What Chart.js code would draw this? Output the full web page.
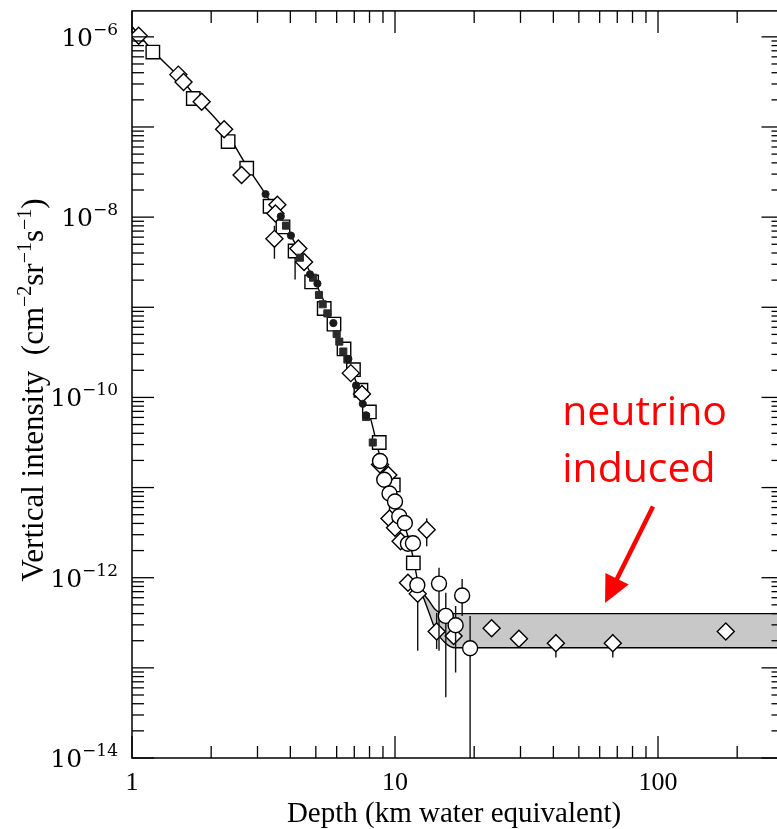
<!DOCTYPE html>
<html>
<head>
<meta charset="utf-8">
<script src="https://cdn.jsdelivr.net/npm/chart.js@4.4.1/dist/chart.umd.min.js"></script>
<style>
  html, body { margin: 0; padding: 0; background: #fff; overflow: hidden; }
  #wrap { position: absolute; left: 0; top: 0; width: 800px; height: 829px; }
</style>
</head>
<body>
<div id="wrap"><canvas id="chart" width="800" height="829"></canvas></div>
<script>
// depth (km w.e.) vs vertical muon intensity (cm^-2 sr^-1 s^-1)

// open diamonds
const diamondX = [1.06, 1.50, 1.57, 1.84, 2.24, 2.61, 3.57, 3.51, 3.48, 4.29, 4.51, 6.79, 7.49, 8.77,
  9.43, 9.53, 10.0, 13.2, 10.5, 11.2, 12.2, 14.4, 16.7, 23.3, 29.6, 40.9, 67.3, 181];
const diamondY = [1.03e-6, 3.81e-7, 3.16e-7, 1.90e-7, 9.42e-8, 2.94e-8, 1.37e-8, 1.10e-8, 5.74e-9, 4.49e-9,
  3.18e-9, 1.86e-10, 1.09e-10, 1.80e-11, 1.38e-11, 4.55e-12, 3.59e-12, 3.41e-12, 2.54e-12, 8.8e-13,
  6.64e-13, 2.53e-13, 2.26e-13, 2.75e-13, 2.10e-13, 1.87e-13, 1.87e-13, 2.53e-13];
const diamondLo = [null, null, null, null, null, null, null, null, 3.46e-9, null, null, null, null, null,
  null, 4.0e-12, null, 2.23e-12, null, null, 1.55e-13, 1.62e-13, null, 2.45e-13, 1.71e-13, 1.30e-13, 1.30e-13, 2.2e-13];
const diamondHi = [null, null, null, null, null, null, null, null, 8.0e-9, null, null, null, null, null,
  null, 7.5e-12, null, 4.58e-12, null, null, 6.64e-13, 4.07e-13, null, 3.15e-13, 2.51e-13, 2.38e-13, 2.38e-13, 2.9e-13];

// open squares
const squareX = [1.20, 1.71, 2.32, 2.73, 3.35, 3.75, 4.17, 4.82, 5.38, 5.86, 6.40, 6.95, 7.42, 7.99, 8.71, 9.85, 11.74];
const squareY = [6.78e-7, 2.07e-7, 6.89e-8, 3.49e-8, 1.32e-8, 7.8e-9, 4.21e-9, 1.91e-9, 9.7e-10, 6.5e-10,
  3.45e-10, 2.03e-10, 1.20e-10, 6.9e-11, 3.16e-11, 1.07e-11, 1.46e-12];
const squareLo = [null, null, null, null, null, null, 2.03e-9, null, null, null, null, null, null, null, null, null, null];
const squareHi = [null, null, null, null, null, null, 4.21e-9, null, null, null, null, null, null, null, null, null, null];

// small filled circles
const dotX = [3.22, 3.68, 4.02, 4.75, 5.07, 5.83, 6.65, 7.11, 7.54, 7.76];
const dotY = [1.80e-8, 1.02e-8, 6.25e-9, 2.32e-9, 1.83e-9, 6.68e-10, 2.67e-10, 1.36e-10, 8.5e-11, 6.34e-11];

// small filled squares
const blockX = [3.85, 4.35, 4.88, 5.14, 5.31, 5.53, 6.00, 6.14, 6.36, 6.59, 7.76, 8.23];
const blockY = [8.05e-9, 3.55e-9, 2.13e-9, 1.37e-9, 1.08e-9, 8.55e-10, 5.05e-10, 4.16e-10, 3.23e-10, 2.63e-10, 6.08e-11, 3.16e-11];

// open circles
const circleX = [8.77, 9.10, 9.53, 10.0, 10.38, 10.9, 11.2, 11.7, 12.16, 14.7, 15.6, 18.0, 17.0, 19.3];
const circleY = [1.97e-11, 1.22e-11, 8.59e-12, 7.0e-12, 4.79e-12, 4.04e-12, 2.38e-12, 2.41e-12, 8.28e-13,
  8.6e-13, 3.77e-13, 6.34e-13, 2.97e-13, 1.65e-13];
const circleLo = [null, null, null, null, null, null, null, null, null, 1.55e-13, 4.72e-14, 3.77e-13, 8.9e-14, 1e-14];
const circleHi = [null, null, null, null, null, null, null, null, null, 1.29e-12, 6.8e-13, 9.66e-13, 4.86e-13, 3.77e-13];

// fitted curve, then the two edges of the neutrino-induced band
const curveX = [1.0, 1.20, 1.52, 1.81, 2.26, 2.69, 3.20, 3.82, 4.35, 5.19, 6.18, 7.36, 8.04, 8.77,
  9.57, 10.45, 11.2, 11.8, 12.2, 12.56];
const curveY = [1.3e-6, 7.0e-7, 3.52e-7, 1.92e-7, 9.2e-8, 3.96e-8, 1.85e-8, 8.2e-9, 4.03e-9, 1.46e-9,
  4.31e-10, 1.15e-10, 6.08e-11, 2.2e-11, 1.03e-11, 5.16e-12, 2.88e-12, 1.52e-12, 9.2e-13, 7.1e-13];
const bandX = [12.56, 13.4, 14.3, 15.5, 16.9, 300];
const bandUpper = [7.1e-13, 5.66e-13, 4.38e-13, 4.0e-13, 4.0e-13, 4.0e-13];
const bandLower = [7.1e-13, 4.28e-13, 2.58e-13, 1.9e-13, 1.67e-13, 1.67e-13];

const xTickValues = [1, 10, 100];
const xTickLabels = ['1', '10', '100'];
const yLabelExps = [-6, -8, -10, -12, -14];

const note = { lines: ['neutrino', 'induced'], x: 43.2, y: [4.95e-11, 1.16e-11] };
const arrow = { from: [95.7, 6.17e-12], to: [62.9, 5.25e-13] };

const pts = (xs, ys) => xs.map((x, i) => ({ x, y: ys[i] }));

const errorBars = {
  id: 'errorBars',
  beforeDatasetDraw(chart, args) {
    const ds = chart.data.datasets[args.index];
    if (!ds.errLo) return;
    const { ctx, chartArea: a, scales: { x, y } } = chart;
    ctx.save();
    ctx.beginPath();
    ctx.rect(a.left, a.top, a.width, a.height);
    ctx.clip();
    ctx.strokeStyle = '#111';
    ctx.lineWidth = 1.4;
    ds.data.forEach((p, i) => {
      const lo = ds.errLo[i], hi = ds.errHi[i];
      if (lo == null) return;
      const px = x.getPixelForValue(p.x);
      ctx.beginPath();
      ctx.moveTo(px, y.getPixelForValue(lo));
      ctx.lineTo(px, y.getPixelForValue(hi));
      ctx.stroke();
    });
    ctx.restore();
  }
};

function drawPieces(ctx, pieces, x, y) {
  let cx = x;
  pieces.forEach(([txt, sup]) => {
    ctx.font = sup ? sup.font : pieces.font;
    ctx.fillText(txt, cx, y - (sup ? sup.rise : 0));
    cx += ctx.measureText(txt).width;
  });
}

function piecesWidth(ctx, pieces) {
  let w = 0;
  pieces.forEach(([txt, sup]) => {
    ctx.font = sup ? sup.font : pieces.font;
    w += ctx.measureText(txt).width;
  });
  return w;
}

const frame = {
  id: 'frame',
  afterDraw(chart) {
    const { ctx, chartArea: a, scales: { x, y } } = chart;
    ctx.save();
    ctx.strokeStyle = '#000';
    ctx.lineWidth = 1.5;
    ctx.strokeRect(a.left, a.top, a.width, a.height);

    const seg = (x1, y1, x2, y2) => {
      ctx.beginPath();
      ctx.moveTo(x1, y1);
      ctx.lineTo(x2, y2);
      ctx.stroke();
    };

    ctx.lineWidth = 1.3;
    for (let dec = 1; dec <= 100; dec *= 10) {
      for (let m = 1; m <= 9; m++) {
        const v = dec * m;
        if (v > x.max) continue;
        const px = x.getPixelForValue(v);
        const len = m === 1 ? 22 : 12;
        seg(px, a.bottom, px, a.bottom - len);
        seg(px, a.top, px, a.top + len);
      }
    }
    for (let e = -14; e <= -6; e++) {
      for (let m = 1; m <= 9; m++) {
        const v = m * Math.pow(10, e);
        if (v > y.max || v < y.min) continue;
        const py = y.getPixelForValue(v);
        const len = m === 1 ? 22 : 12;
        seg(a.left, py, a.left + len, py);
        seg(a.right, py, a.right - len, py);
      }
    }

    ctx.fillStyle = '#000';
    // x tick labels
    ctx.font = '26px "Liberation Serif"';
    ctx.textAlign = 'center';
    ctx.textBaseline = 'alphabetic';
    xTickValues.forEach((v, i) => {
      ctx.fillText(xTickLabels[i], x.getPixelForValue(v), a.bottom + 32);
    });

    // y tick labels as 10^n
    ctx.textAlign = 'left';
    yLabelExps.forEach(e => {
      const py = y.getPixelForValue(Math.pow(10, e));
      const pieces = [['10', null], ['\u2212' + (-e), { font: '17px "DejaVu Serif"', rise: 11 }]];
      pieces.font = '25px "DejaVu Serif"';
      const w = piecesWidth(ctx, pieces);
      drawPieces(ctx, pieces, a.left - 14 - w, py + 9);
    });

    // axis titles
    ctx.font = '29px "Liberation Serif"';
    ctx.textAlign = 'center';
    ctx.fillText('Depth (km water equivalent)', 454, 822);

    const sup = { font: '20px "Liberation Serif"', rise: 12 };
    const title = [['Vertical intensity  (cm', null], ['\u22122', sup], ['sr', null], ['\u22121', sup],
      ['s', null], ['\u22121', sup], [')', null]];
    title.font = '31px "Liberation Serif"';
    ctx.textAlign = 'left';
    ctx.translate(43, 390);
    ctx.rotate(-Math.PI / 2);
    drawPieces(ctx, title, -piecesWidth(ctx, title) / 2, 0);
    ctx.restore();

    // annotation
    ctx.save();
    ctx.fillStyle = '#ff0000';
    ctx.strokeStyle = '#ff0000';
    ctx.font = '41px "Open Sans"';
    ctx.textAlign = 'left';
    note.lines.forEach((t, i) => ctx.fillText(t, x.getPixelForValue(note.x), y.getPixelForValue(note.y[i])));
    const x1 = x.getPixelForValue(arrow.from[0]), y1 = y.getPixelForValue(arrow.from[1]);
    const x2 = x.getPixelForValue(arrow.to[0]), y2 = y.getPixelForValue(arrow.to[1]);
    const len = Math.hypot(x2 - x1, y2 - y1);
    const ux = (x2 - x1) / len, uy = (y2 - y1) / len;
    const head = 27, half = 13;
    const bx = x2 - ux * head, by = y2 - uy * head;
    ctx.lineWidth = 4.5;
    ctx.beginPath();
    ctx.moveTo(x1, y1);
    ctx.lineTo(bx + ux * 2, by + uy * 2);
    ctx.stroke();
    ctx.beginPath();
    ctx.moveTo(x2, y2);
    ctx.lineTo(bx - uy * half, by + ux * half);
    ctx.lineTo(bx + uy * half, by - ux * half);
    ctx.closePath();
    ctx.fill();
    ctx.restore();
  }
};

const open = { backgroundColor: '#fff', borderColor: '#000', borderWidth: 1.4 };

new Chart(document.getElementById('chart'), {
  type: 'scatter',
  data: {
    datasets: [
      { data: pts(circleX, circleY), errLo: circleLo, errHi: circleHi, pointStyle: 'circle', pointRadius: 7.5, ...open, order: 0 },
      { data: pts(dotX, dotY), pointStyle: 'circle', pointRadius: 3.6, backgroundColor: '#1a1a1a', borderColor: '#1a1a1a', borderWidth: 1, order: 1 },
      { data: pts(blockX, blockY), pointStyle: 'rect', pointRadius: 5, backgroundColor: '#2a2a2a', borderColor: '#2a2a2a', borderWidth: 1, order: 2 },
      { data: pts(diamondX, diamondY), errLo: diamondLo, errHi: diamondHi, pointStyle: 'rectRot', pointRadius: 8.5, ...open, order: 3 },
      { data: pts(squareX, squareY), errLo: squareLo, errHi: squareHi, pointStyle: 'rect', pointRadius: 9.5, ...open, order: 4 },
      { data: pts(curveX, curveY), showLine: true, pointRadius: 0, borderColor: '#000', borderWidth: 1.4,
        cubicInterpolationMode: 'monotone', order: 10 },
      { data: pts(bandX, bandUpper), showLine: true, pointRadius: 0, borderColor: '#000', borderWidth: 1.4,
        cubicInterpolationMode: 'monotone', order: 11 },
      { data: pts(bandX, bandLower), showLine: true, pointRadius: 0, borderColor: '#000', borderWidth: 1.4,
        cubicInterpolationMode: 'monotone', fill: '-1', backgroundColor: '#c8c8c8', order: 12 }
    ]
  },
  options: {
    responsive: false,
    animation: false,
    events: [],
    layout: { padding: { top: 7, right: 16.5, left: 0, bottom: 0 } },
    plugins: { legend: { display: false }, tooltip: { enabled: false } },
    scales: {
      x: {
        type: 'logarithmic', min: 1, max: 300,
        ticks: { display: false }, grid: { display: false }, border: { display: false },
        afterFit(s) { s.height = 71; }
      },
      y: {
        type: 'logarithmic', min: 1e-14, max: 1.94e-6,
        ticks: { display: false }, grid: { display: false }, border: { display: false },
        afterFit(s) { s.width = 132; }
      }
    }
  },
  plugins: [errorBars, frame]
});
</script>
</body>
</html>
